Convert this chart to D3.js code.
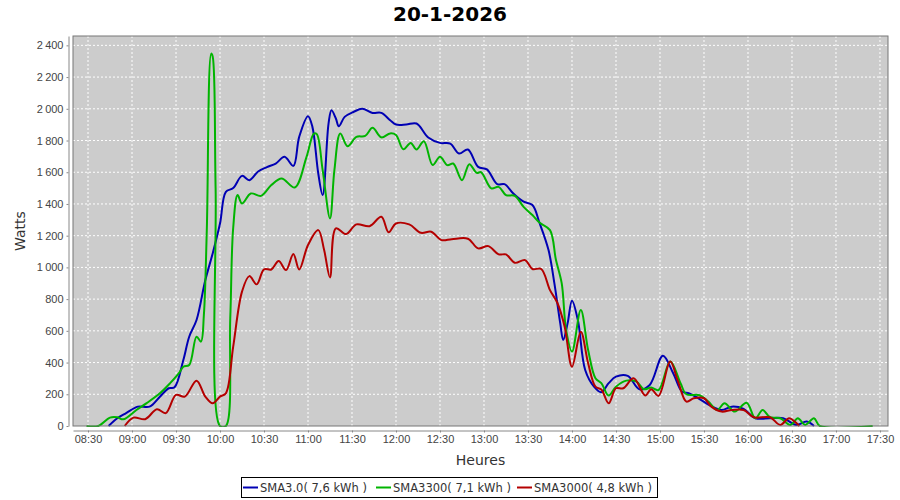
<!DOCTYPE html>
<html>
<head>
<meta charset="utf-8">
<script src="https://cdn.jsdelivr.net/npm/d3@7"></script>
<style>
  body { margin: 0; background: #fff; }
  svg { font-family: "DejaVu Sans", sans-serif; }
  .grid line { stroke: #fff; stroke-dasharray: 2,2; stroke-width: 1; }
  .axis path, .axis line { stroke: #888; }
  .axis text { fill: #444; font-size: 11px; }
  .line { fill: none; stroke-width: 2; }
</style>
</head>
<body>
<script>

// Values (time of day, watts)
var sma30 = [
  ["08:44",0],["08:50",49],["08:56",81],["09:04",122],["09:12",122],["09:19",185],
  ["09:25",238],["09:29",244],["09:35",416],["09:39",563],["09:44",668],["09:50",920],
  ["09:55",1088],["10:00",1277],["10:04",1476],["10:09",1500],["10:15",1577],["10:20",1550],
  ["10:26",1605],["10:32",1632],["10:38",1655],["10:44",1697],["10:50",1640],["10:54",1823],
  ["11:00",1953],["11:03",1886],["11:07",1592],["11:10",1456],["11:14",1907],["11:16",1991],
  ["11:19",1939],["11:21",1890],["11:25",1949],["11:31",1980],["11:37",2000],["11:44",1974],
  ["11:50",1974],["11:56",1928],["12:00",1901],["12:07",1901],["12:14",1907],["12:22",1819],
  ["12:30",1785],["12:37",1781],["12:43",1718],["12:49",1743],["12:56",1634],["13:02",1618],
  ["13:09",1525],["13:14",1525],["13:20",1466],["13:27",1414],["13:33",1393],["13:38",1277],
  ["13:44",1109],["13:48",899],["13:52",647],["13:54",542],["13:57",647],["14:00",790],
  ["14:04",668],["14:09",353],["14:15",248],["14:20",213],["14:25",270],["14:30",311],
  ["14:38",316],["14:46",232],["14:53",259],["15:02",443],["15:09",333],["15:15",217],
  ["15:20",206],["15:27",170],["15:34",130],["15:42",101],["15:49",122],["15:57",108],
  ["16:05",49],["16:15",49],["16:24",49],["16:33",7],["16:40",28],["16:45",0]
];

var sma3300 = [
  ["08:29",0],["08:37",0],["08:45",53],["08:50",55],["08:54",42],["09:03",101],
  ["09:10",144],["09:19",206],["09:26",270],["09:32",333],["09:35",374],["09:39",385],
  ["09:44",563],["09:47",532],["09:49",700],["09:51",1235],["09:54",2348],["09:55",2330],
  ["09:57",1500],["10:00",0],["10:04",0],["10:07",680],["10:09",1250],["10:12",1456],
  ["10:15",1403],["10:21",1466],["10:28",1451],["10:35",1519],["10:42",1561],["10:51",1504],
  ["10:59",1697],["11:04",1844],["11:06",1840],["11:10",1613],["11:15",1309],["11:18",1613],
  ["11:22",1844],["11:27",1764],["11:33",1823],["11:39",1829],["11:44",1880],["11:50",1820],
  ["11:56",1845],["12:00",1835],["12:05",1745],["12:10",1785],["12:14",1743],["12:19",1796],
  ["12:25",1645],["12:30",1697],["12:35",1645],["12:39",1655],["12:45",1550],["12:50",1651],
  ["12:55",1596],["12:58",1600],["13:05",1498],["13:10",1508],["13:15",1456],["13:21",1451],
  ["13:27",1382],["13:33",1330],["13:38",1281],["13:45",1235],["13:49",1050],["13:53",899],
  ["13:56",605],["14:00",469],["14:06",731],["14:11",479],["14:16",301],["14:20",270],
  ["14:25",192],["14:30",248],["14:37",286],["14:44",280],["14:49",232],["14:54",242],
  ["14:59",227],["15:07",406],["15:14",270],["15:18",200],["15:27",194],["15:33",154],
  ["15:39",101],["15:44",143],["15:51",91],["15:59",147],["16:05",49],["16:10",101],
  ["16:15",55],["16:22",49],["16:29",7],["16:34",49],["16:39",7],["16:45",49],
  ["16:49",0],["17:25",0]
];

var sma3000 = [
  ["08:55",0],["09:01",53],["09:09",43],["09:17",106],["09:23",81],["09:30",196],
  ["09:36",185],["09:44",286],["09:50",185],["09:55",143],["10:00",185],["10:04",206],
  ["10:09",500],["10:15",847],["10:20",945],["10:25",893],["10:30",988],["10:35",987],
  ["10:40",1040],["10:45",983],["10:50",1084],["10:54",987],["11:00",1141],["11:07",1235],
  ["11:11",1109],["11:15",937],["11:19",1246],["11:26",1210],["11:33",1271],["11:42",1260],
  ["11:50",1319],["11:55",1221],["12:00",1277],["12:09",1271],["12:17",1218],["12:24",1225],
  ["12:31",1172],["12:38",1178],["12:49",1181],["12:56",1120],["13:03",1134],["13:10",1082],
  ["13:15",1082],["13:21",1029],["13:28",1046],["13:33",990],["13:39",990],["13:45",857],
  ["13:50",777],["13:55",626],["14:00",374],["14:06",595],["14:11",396],["14:16",248],
  ["14:20",230],["14:25",143],["14:30",238],["14:35",238],["14:42",301],["14:50",192],
  ["14:54",232],["14:59",190],["15:07",406],["15:12",290],["15:18",154],["15:23",175],
  ["15:30",175],["15:35",122],["15:42",91],["15:49",101],["15:57",101],["16:04",55],
  ["16:15",55],["16:22",7],["16:28",49],["16:33",18],["16:35",0]
];

var seriesNames = ["SMA3.0( 7,6 kWh )", "SMA3300( 7,1 kWh )", "SMA3000( 4,8 kWh )"];
var seriesColors = ["#0000b4", "#00b400", "#b40000"];
var xTickLabels = ["08:30","09:00","09:30","10:00","10:30","11:00","11:30","12:00","12:30",
  "13:00","13:30","14:00","14:30","15:00","15:30","16:00","16:30","17:00","17:30"];
var yTickValues = [0,200,400,600,800,1000,1200,1400,1600,1800,2000,2200,2400];

var parseTime = d3.timeParse("%H:%M");
var fr = d3.formatLocale({decimal: ",", thousands: "\u202f", grouping: [3], currency: ["", " €"]});

// Plot area
var margin = {top: 36, right: 12, bottom: 74, left: 73},
    width = 900 - margin.left - margin.right,
    height = 500 - margin.top - margin.bottom;

var x = d3.scaleTime()
    .domain([new Date(1900, 0, 1, 8, 19, 46), new Date(1900, 0, 1, 17, 35, 28)])
    .range([0, width]);
var y = d3.scaleLinear().domain([0, 2459]).range([height, 0]);

var svg = d3.select("body").append("svg")
    .attr("width", 900)
    .attr("height", 500);

// Title
svg.append("text")
    .attr("x", 450)
    .attr("y", 21)
    .attr("text-anchor", "middle")
    .style("font-size", "20px")
    .style("font-weight", "bold")
    .text("20-1-2026");

var g = svg.append("g")
    .attr("transform", "translate(" + margin.left + "," + margin.top + ")");

g.append("rect")
    .attr("width", width)
    .attr("height", height)
    .attr("fill", "#cccccc");

// Grid lines
g.append("g")
    .attr("class", "grid")
    .selectAll("line")
    .data(yTickValues.slice(1))
    .join("line")
        .attr("x1", 0).attr("x2", width)
        .attr("y1", d => y(d)).attr("y2", d => y(d));

g.append("g")
    .attr("class", "grid")
    .selectAll("line")
    .data(xTickLabels.map(parseTime))
    .join("line")
        .attr("x1", d => x(d)).attr("x2", d => x(d))
        .attr("y1", 0).attr("y2", height);

// clip a bit below the frame so lines sitting at 0 stay visible
g.append("clipPath")
    .attr("id", "clip")
  .append("rect")
    .attr("width", width)
    .attr("height", height + 1);

var line = d3.line()
    .curve(d3.curveCatmullRom.alpha(0.5))
    .x(function(d) { return x(parseTime(d[0])); })
    .y(function(d) { return y(d[1]); });

[sma30, sma3300, sma3000].forEach(function(s, i) {
    g.append("path")
        .attr("class", "line")
        .attr("clip-path", "url(#clip)")
        .style("stroke", seriesColors[i])
        .attr("d", line(s));
});

// Plot border
g.append("rect")
    .attr("width", width)
    .attr("height", height)
    .attr("fill", "none")
    .attr("stroke", "#777")
    .attr("stroke-width", 1);

// Axes
g.append("g")
    .attr("class", "axis")
    .attr("transform", "translate(0," + (height + 4.5) + ")")
    .call(d3.axisBottom(x)
        .tickValues(xTickLabels.map(parseTime))
        .tickFormat(d3.timeFormat("%H:%M"))
        .tickSizeInner(2).tickSizeOuter(0).tickPadding(3));

g.append("g")
    .attr("class", "axis")
    .attr("transform", "translate(-4.5,0)")
    .call(d3.axisLeft(y)
        .tickValues(yTickValues)
        .tickFormat(fr.format(",d"))
        .tickSizeInner(2).tickSizeOuter(0).tickPadding(3));

// Axis labels
svg.append("text")
    .attr("transform", "rotate(-90)")
    .attr("x", -(margin.top + height / 2))
    .attr("y", 25)
    .attr("text-anchor", "middle")
    .style("font-size", "14px")
    .style("fill", "#333")
    .text("Watts");

svg.append("text")
    .attr("x", margin.left + width / 2)
    .attr("y", 465)
    .attr("text-anchor", "middle")
    .style("font-size", "14px")
    .style("fill", "#333")
    .text("Heures");

// Legend
var legend = svg.append("g");
legend.append("rect")
    .attr("x", 241.5).attr("y", 477.5)
    .attr("width", 416).attr("height", 20)
    .attr("fill", "#fff").attr("stroke", "#000");

var legendX = [243, 376, 517];
seriesNames.forEach(function(name, i) {
    legend.append("line")
        .attr("x1", legendX[i]).attr("x2", legendX[i] + 15)
        .attr("y1", 487.5).attr("y2", 487.5)
        .attr("stroke", seriesColors[i]).attr("stroke-width", 2);
    legend.append("text")
        .attr("x", legendX[i] + 17)
        .attr("y", 491.5)
        .style("font-size", "11.5px")
        .style("fill", "#333")
        .text(name);
});

</script>
</body>
</html>
